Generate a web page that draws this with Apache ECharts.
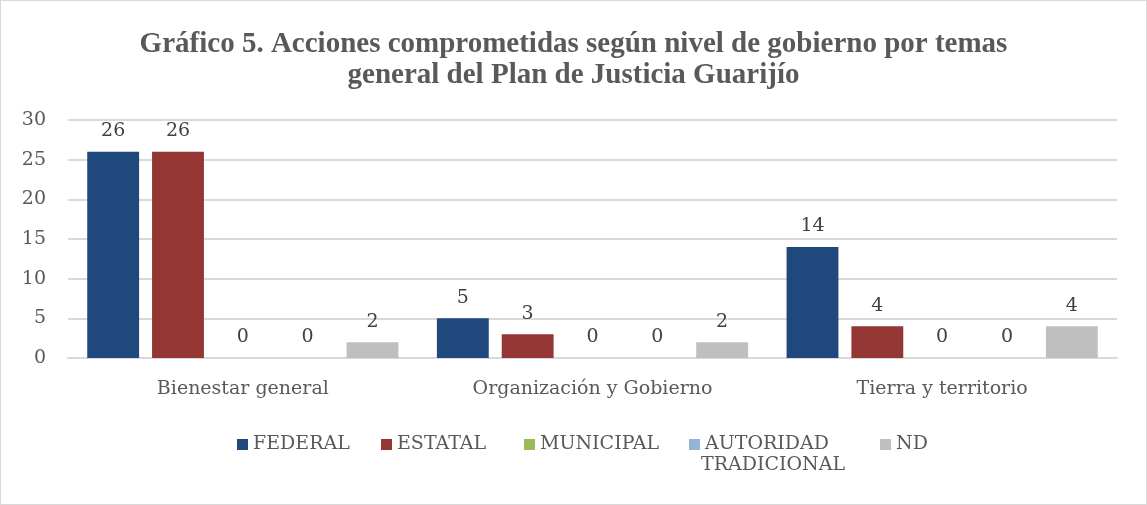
<!DOCTYPE html>
<html>
<head>
<meta charset="utf-8">
<script src="https://cdn.jsdelivr.net/npm/echarts@6/dist/echarts.min.js"></script>
<style>
  html, body { margin: 0; padding: 0; background: #fff; }
  #main { width: 1145px; height: 503px; border: 1px solid #d9d9d9; }
</style>
</head>
<body>
<div id="main"></div>
<script>
let categories = ['Bienestar general', 'Organización y Gobierno', 'Tierra y territorio']
let seriesNames = ['FEDERAL', 'ESTATAL', 'MUNICIPAL', 'AUTORIDAD TRADICIONAL', 'ND']
let federal = [26, 5, 14]
let estatal = [26, 3, 4]
let municipal = [0, 0, 0]
let autoridad = [0, 0, 0]
let nd = [2, 2, 4]
let yTicks = [0, 5, 10, 15, 20, 25, 30]

let serif = 'DejaVu Serif'
let grey = '#595959'
let colors = ['#1f497d', '#943634', '#9bbb59', '#95b3d7', '#bfbfbf']
// x de cada elemento de la leyenda
let legendLeft = [231, 375, 518, 683, 874]

let mkSeries = function(i, data) {
    return {
        name: seriesNames[i],
        type: 'bar',
        data: data,
        barGap: '25%',
        barCategoryGap: '11%',
        itemStyle: { color: colors[i] },
        label: {
            show: true,
            position: 'top',
            distance: 11,
            color: '#404040',
            fontFamily: serif,
            fontSize: 19
        }
    }
}

let legends = seriesNames.map(function(name, i) {
    return {
        left: legendLeft[i],
        top: 429,
        itemWidth: 11,
        itemHeight: 11,
        itemGap: 0,
        icon: 'rect',
        data: [name],
        formatter: function(n) {
            return n === 'AUTORIDAD TRADICIONAL' ? 'AUTORIDAD' : n
        },
        textStyle: { fontFamily: serif, fontSize: 19, color: grey }
    }
})

let chart = echarts.init(document.getElementById('main'))
let option = {
    backgroundColor: '#fff',
    title: {
        text: 'Gráfico 5. Acciones comprometidas según nivel de gobierno por temas\ngeneral del Plan de Justicia Guarijío',
        left: 'center',
        top: 23,
        textStyle: {
            fontFamily: 'Liberation Serif',
            fontWeight: 'bold',
            fontSize: 29,
            lineHeight: 31,
            color: grey
        }
    },
    legend: legends,
    graphic: [{
        type: 'text',
        left: legendLeft[3] + 17,
        top: 455,
        style: { text: 'TRADICIONAL', fontFamily: serif, fontSize: 19, fill: grey }
    }],
    grid: { left: 67, right: 29, top: 119, bottom: 146 },
    xAxis: {
        type: 'category',
        data: categories,
        axisTick: { show: false },
        axisLine: { lineStyle: { color: '#d9d9d9', width: 2 } },
        axisLabel: { margin: 22, fontFamily: serif, fontSize: 19, color: grey }
    },
    yAxis: {
        type: 'value',
        min: yTicks[0],
        max: yTicks[yTicks.length - 1],
        interval: 5,
        axisLabel: { margin: 22, fontFamily: serif, fontSize: 19, color: grey },
        splitLine: { lineStyle: { color: '#d9d9d9', width: 2 } }
    },
    series: [
        mkSeries(0, federal),
        mkSeries(1, estatal),
        mkSeries(2, municipal),
        mkSeries(3, autoridad),
        mkSeries(4, nd)
    ]
}
chart.setOption(option)
</script>
</body>
</html>
